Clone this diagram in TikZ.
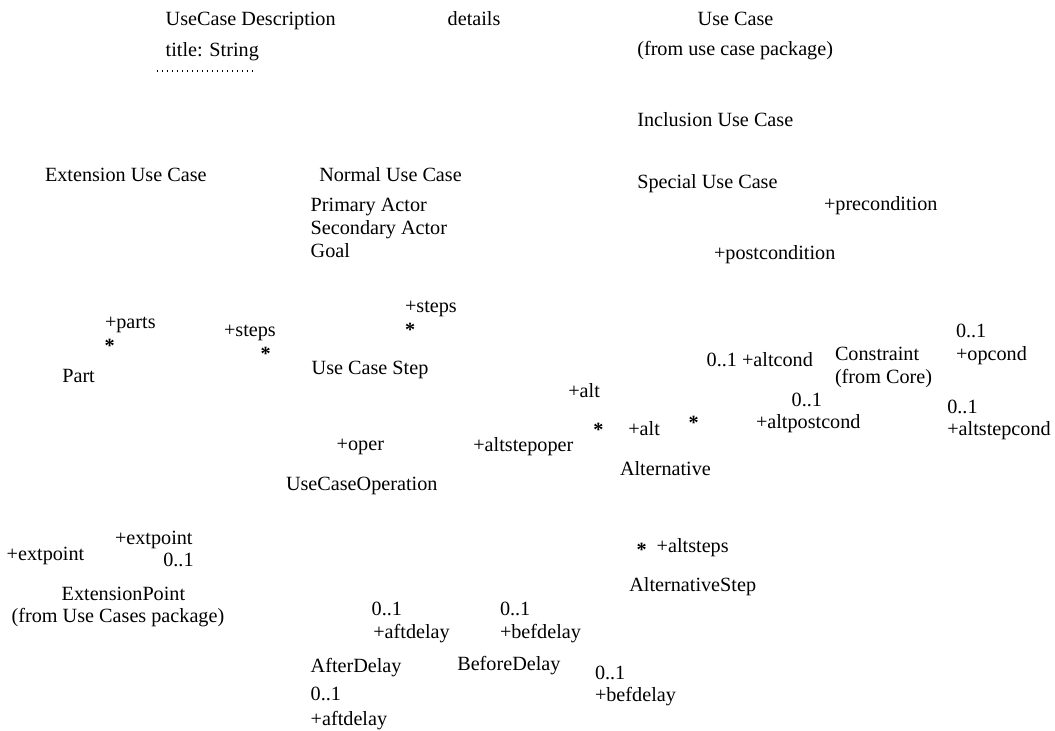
\documentclass[tikz,border=0pt]{standalone}
\usepackage{fontspec}
\setmainfont{Liberation Serif}
\begin{document}
\begin{tikzpicture}[x=1pt,y=-1pt,
  lbl/.style={anchor=base west, inner sep=0pt, outer sep=0pt,
              font=\fontsize{20.2}{23}\selectfont},
  star/.style={lbl, font=\fontsize{20.2}{23}\selectfont\bfseries},
  sepline/.style={line width=1.3pt, dash pattern=on 1.3pt off 3.7pt}]
% page frame
\fill[white] (0,0) rectangle (1055,731);
\useasboundingbox (0,0) rectangle (1055,731);

% use case description
\node[lbl] (ucd)     at (165.7,25)   {UseCase Description};
\node[lbl] (title)   at (165.7,56)   {title: String};
\coordinate (sepL) at (157,71);
\coordinate (sepR) at (253,71);
\draw[sepline] (sepL) -- (sepR);
\node[lbl] (details) at (447.7,25)   {details};

% use case hierarchy
\node[lbl] (uc)      at (697.7,25)   {Use Case};
\node[lbl] (ucpkg)   at (637.3,55)   {(from use case package)};
\node[lbl] (incl)    at (637.3,126)  {Inclusion Use Case};
\node[lbl] (ext)     at (45,181.7)   {Extension Use Case};
\node[lbl] (normal)  at (319.3,181.7){Normal Use Case};
\node[lbl] (special) at (637.3,188.3){Special Use Case};
\node[lbl] (pre)     at (824,210.7)  {+precondition};
\node[lbl] (prim)    at (310.7,211.7){Primary Actor};
\node[lbl] (sec)     at (310.7,234.7){Secondary Actor};
\node[lbl] (goal)    at (310.7,257.7){Goal};
\node[lbl] (post)    at (714,259)    {+postcondition};

% steps and parts
\node[lbl]  (parts)  at (105,328)    {+parts};
\node[star] (astA)   at (104.5,352)  {*};
\node[lbl]  (stepsA) at (224,336)    {+steps};
\node[star] (astB)   at (260.5,360)  {*};
\node[lbl]  (stepsB) at (405,312.5)  {+steps};
\node[star] (astC)   at (405,336.6)  {*};
\node[lbl]  (part)   at (62.3,382)   {Part};
\node[lbl]  (ucs)    at (311.7,374.5){Use Case Step};

% constraints
\node[lbl] (opm)     at (956,337.3)  {0..1};
\node[lbl] (opcond)  at (956,360)    {+opcond};
\node[lbl] (altcond) at (706.7,366.7){0..1 +altcond};
\node[lbl] (constr)  at (835,360)    {Constraint};
\node[lbl] (core)    at (835,383)    {(from Core)};
\node[lbl] (apm)     at (791.7,406.7){0..1};
\node[lbl] (apc)     at (756,428.3)  {+altpostcond};
\node[lbl] (asm)     at (947.3,413.3){0..1};
\node[lbl] (asc)     at (947.3,435)  {+altstepcond};

% alternatives
\node[lbl]  (altup)  at (568.3,397.7){+alt};
\node[star] (astD)   at (593.3,436.3){*};
\node[lbl]  (altlow) at (628.3,435)  {+alt};
\node[star] (astE)   at (688.7,429.3){*};
\node[lbl]  (oper)   at (336.7,450.5){+oper};
\node[lbl]  (aso)    at (473.3,451.7){+altstepoper};
\node[lbl]  (altv)   at (620,475)    {Alternative};
\node[lbl]  (ucop)   at (286,490.7)  {UseCaseOperation};
\node[star] (astF)   at (636.7,556.3){*};
\node[lbl]  (altsteps) at (656.7,552.7){+altsteps};
\node[lbl]  (altstep) at (629.3,591.7){AlternativeStep};

% extension points
\node[lbl] (extpA)   at (115,544.3)  {+extpoint};
\node[lbl] (extpB)   at (6.7,560)    {+extpoint};
\node[lbl] (extm)    at (163.3,566.7){0..1};
\node[lbl] (extpt)   at (61.7,600)   {ExtensionPoint};
\node[lbl] (ucpkgB)  at (11.7,622)   {(from Use Cases package)};

% delays
\node[lbl] (aftm)    at (371.7,615)  {0..1};
\node[lbl] (aftd)    at (373.3,638.3){+aftdelay};
\node[lbl] (befm)    at (500,615)    {0..1};
\node[lbl] (befd)    at (500,638.3)  {+befdelay};
\node[lbl] (afterd)  at (310.7,672.7){AfterDelay};
\node[lbl] (befored) at (457.3,670.7){BeforeDelay};
\node[lbl] (befmB)   at (595,679.3)  {0..1};
\node[lbl] (befdB)   at (595,701.7)  {+befdelay};
\node[lbl] (aftmB)   at (310.7,700)  {0..1};
\node[lbl] (aftdB)   at (310.7,725)  {+aftdelay};
\end{tikzpicture}
\end{document}
